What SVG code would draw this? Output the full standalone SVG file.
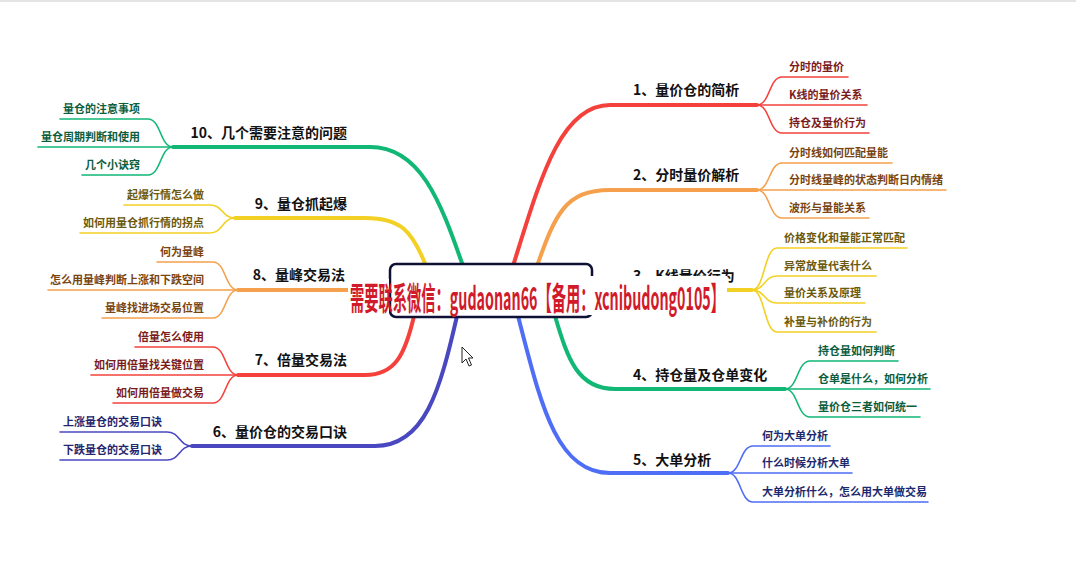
<svg xmlns="http://www.w3.org/2000/svg" width="1076" height="581" viewBox="0 0 1076 581">
<style>
.main{fill:none;stroke-width:4;stroke-linecap:round}
.sub{fill:none;stroke-width:1.6;stroke-linecap:round}
.topic{font-family:"Noto Sans CJK SC","Noto Sans",sans-serif;font-size:14px;font-weight:bold;fill:#111}
.child{font-family:"Noto Sans CJK SC","Noto Sans",sans-serif;font-size:11px;font-weight:bold}
.r{stroke:#f4413c}.o{stroke:#f5a04c}.y{stroke:#f3d124}.g{stroke:#10b775}.b{stroke:#4e6ef5}.i{stroke:#4a48c0}
.tr{fill:#7b1c1c}.to{fill:#7a4410}.ty{fill:#6b5a0e}.tg{fill:#0b5e3e}.tb{fill:#1b2a6e}.ti{fill:#26246e}
.end{text-anchor:end}
</style>
<rect x="0" y="0" width="1076" height="581" fill="#fff"/>
<rect x="0" y="0" width="1076" height="2" fill="#e4e4e4"/>
<g id="connectors">
<path class="main r" d="M513 266 C540 180 560 105 610 105 L757 105"/>
<path class="main o" d="M537 266 C555 215 565 190 610 190 L757 190"/>
<path class="main y" d="M592 290 L752 290"/>
<path class="main g" d="M555 316 C568 360 578 389 615 389 L785 389"/>
<path class="main b" d="M518 316 C540 400 555 473 610 473 L728 473"/>
<path class="main g" d="M463 266 C440 200 420 147 370 147 L173 147"/>
<path class="main y" d="M426 266 C412 230 400 218 365 218 L235 218"/>
<path class="main o" d="M392 290 L238 290"/>
<path class="main r" d="M414 316 C405 355 395 375 365 375 L238 375"/>
<path class="main i" d="M457 316 C440 390 425 446 375 446 L192 446"/>
<path class="sub r" d="M757 105 C770 105 769 77 782 77 L848 77"/>
<path class="sub r" d="M757 105 L867 105"/>
<path class="sub r" d="M757 105 C770 105 769 133 782 133 L869 133"/>
<path class="sub o" d="M757 190 C770 190 769 163 782 163 L892 163"/>
<path class="sub o" d="M757 190 L946 190"/>
<path class="sub o" d="M757 190 C770 190 769 218 782 218 L869 218"/>
<path class="sub y" d="M752 290 C765 290 764 248 777 248 L907 248"/>
<path class="sub y" d="M752 290 C765 290 764 276 777 276 L876 276"/>
<path class="sub y" d="M752 290 C765 290 764 303 777 303 L865 303"/>
<path class="sub y" d="M752 290 C765 290 764 332 777 332 L876 332"/>
<path class="sub g" d="M785 389 C798 389 797 361 810 361 L898 361"/>
<path class="sub g" d="M785 389 L930 389"/>
<path class="sub g" d="M785 389 C798 389 797 417 810 417 L920 417"/>
<path class="sub b" d="M728 473 C741 473 740 446 753 446 L830 446"/>
<path class="sub b" d="M728 473 L852 473"/>
<path class="sub b" d="M728 473 C741 473 740 502 753 502 L928 502"/>
<path class="sub g" d="M173 147 C160 147 161 119 148 119 L60 119"/>
<path class="sub g" d="M173 147 L38 147"/>
<path class="sub g" d="M173 147 C160 147 161 175 148 175 L82 175"/>
<path class="sub y" d="M235 218 C222 218 223 205 210 205 L124 205"/>
<path class="sub y" d="M235 218 C222 218 223 233 210 233 L80 233"/>
<path class="sub o" d="M238 290 C225 290 226 262 213 262 L157 262"/>
<path class="sub o" d="M238 290 L48 290"/>
<path class="sub o" d="M238 290 C225 290 226 318 213 318 L102 318"/>
<path class="sub r" d="M238 375 C225 375 226 347 213 347 L135 347"/>
<path class="sub r" d="M238 375 L91 375"/>
<path class="sub r" d="M238 375 C225 375 226 403 213 403 L113 403"/>
<path class="sub i" d="M192 446 C179 446 180 432 167 432 L60 432"/>
<path class="sub i" d="M192 446 C179 446 180 460 167 460 L60 460"/>
</g>
<g id="center">
<rect x="390" y="264" width="202" height="53" rx="6" fill="#fff" stroke="#0e1135" stroke-width="2.5"/>
</g>
<g id="n1">
<text class="topic" x="633" y="95">1、量价仓的简析</text>
<text class="child tr" x="789" y="71">分时的量价</text>
<text class="child tr" x="789" y="99">K线的量价关系</text>
<text class="child tr" x="789" y="127">持仓及量价行为</text>
</g>
<g id="n2">
<text class="topic" x="633" y="180">2、分时量价解析</text>
<text class="child to" x="789" y="157">分时线如何匹配量能</text>
<text class="child to" x="789" y="184">分时线量峰的状态判断日内情绪</text>
<text class="child to" x="789" y="212">波形与量能关系</text>
</g>
<g id="n3">
<text class="topic" x="633" y="281">3、K线量价行为</text>
<text class="child ty" x="784" y="242">价格变化和量能正常匹配</text>
<text class="child ty" x="784" y="270">异常放量代表什么</text>
<text class="child ty" x="784" y="297">量价关系及原理</text>
<text class="child ty" x="784" y="326">补量与补价的行为</text>
</g>
<g id="n4">
<text class="topic" x="633" y="380">4、持仓量及仓单变化</text>
<text class="child tg" x="818" y="355">持仓量如何判断</text>
<text class="child tg" x="818" y="383">仓单是什么，如何分析</text>
<text class="child tg" x="818" y="411">量价仓三者如何统一</text>
</g>
<g id="n5">
<text class="topic" x="633" y="465">5、大单分析</text>
<text class="child tb" x="762" y="440">何为大单分析</text>
<text class="child tb" x="762" y="467">什么时候分析大单</text>
<text class="child tb" x="762" y="496">大单分析什么，怎么用大单做交易</text>
</g>
<g id="n10">
<text class="topic end" x="347" y="138">10、几个需要注意的问题</text>
<text class="child tg end" x="140" y="113">量仓的注意事项</text>
<text class="child tg end" x="140" y="141">量仓周期判断和使用</text>
<text class="child tg end" x="140" y="169">几个小诀窍</text>
</g>
<g id="n9">
<text class="topic end" x="347" y="209">9、量仓抓起爆</text>
<text class="child ty end" x="204" y="199">起爆行情怎么做</text>
<text class="child ty end" x="204" y="227">如何用量仓抓行情的拐点</text>
</g>
<g id="n8">
<text class="topic end" x="345" y="280">8、量峰交易法</text>
<text class="child to end" x="204" y="256">何为量峰</text>
<text class="child to end" x="204" y="284">怎么用量峰判断上涨和下跌空间</text>
<text class="child to end" x="204" y="312">量峰找进场交易位置</text>
</g>
<g id="n7">
<text class="topic end" x="347" y="365">7、倍量交易法</text>
<text class="child tr end" x="204" y="341">倍量怎么使用</text>
<text class="child tr end" x="204" y="369">如何用倍量找关键位置</text>
<text class="child tr end" x="204" y="397">如何用倍量做交易</text>
</g>
<g id="n6">
<text class="topic end" x="347" y="437">6、量价仓的交易口诀</text>
<text class="child ti end" x="162" y="426">上涨量仓的交易口诀</text>
<text class="child ti end" x="162" y="454">下跌量仓的交易口诀</text>
</g>
<g id="watermark">
<rect x="348" y="279" width="41" height="36" fill="#fff"/>
<rect x="395" y="276" width="332" height="39" fill="#fff"/>
<text x="350" y="310" textLength="375" lengthAdjust="spacingAndGlyphs" font-family="'Noto Sans CJK SC','Noto Sans',sans-serif" font-size="32" font-weight="bold" fill="#d11a2a">需要联系微信：gudaonan66【备用：xcnibudong0105】</text>
</g>
<polygon points="462,347 462,363 466,359 469,366 471.5,365 468.5,358 473,358" fill="#fff" stroke="#222" stroke-width="1"/>
</svg>
